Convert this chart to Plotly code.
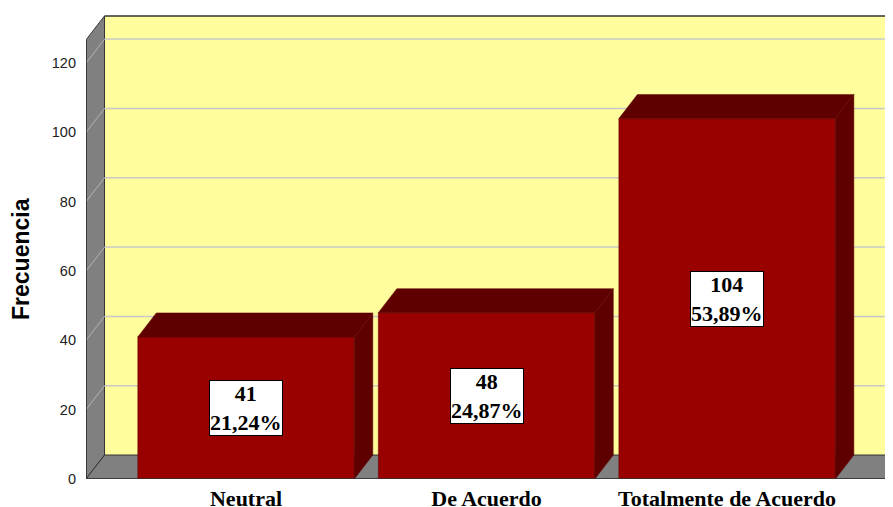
import plotly.graph_objects as go

categorias = ["Neutral", "De Acuerdo", "Totalmente de Acuerdo"]
frecuencias = [41, 48, 104]
porcentajes = ["21,24%", "24,87%", "53,89%"]
ticks_y = [0, 20, 40, 60, 80, 100, 120]

# geometry of the fake 3d box (axis units)
x_pos = list(range(len(categorias)))
ancho = 0.9
x0, x1 = -0.6653, 2.723
y_max_rango = 135.9
techo = 126.7
dx, dy = 0.077, 6.92
x_fin = 2.665

amarillo = "#FFFD9C"
gris = "#808080"
rojo = "#990000"
rojo_osc = "#5E0000"

fig = go.Figure()

shapes = []
# back wall
shapes.append(dict(type="rect", xref="x", yref="y", x0=x0 + dx, x1=x1 + 0.2,
                   y0=dy, y1=techo + dy, fillcolor=amarillo, line=dict(width=0), layer="below"))
# left wall
shapes.append(dict(type="path", xref="x", yref="y",
                   path=f"M {x0},0 L {x0+dx},{dy} L {x0+dx},{techo+dy} L {x0},{techo} Z",
                   fillcolor=gris, line=dict(color="#333333", width=1), layer="below"))
# floor
shapes.append(dict(type="path", xref="x", yref="y",
                   path=f"M {x0},0 L {x0+dx},{dy} L {x_fin+dx},{dy} L {x_fin},0 Z",
                   fillcolor=gris, line=dict(color="#333333", width=1), layer="below"))
# grid lines on back wall + diagonals on left wall
for v in ticks_y[1:]:
    shapes.append(dict(type="line", xref="x", yref="y", x0=x0 + dx, x1=x1 + 0.2,
                       y0=v + dy, y1=v + dy, line=dict(color="#C8C8C8", width=1.5), layer="below"))
    shapes.append(dict(type="line", xref="x", yref="y", x0=x0, x1=x0 + dx,
                       y0=v, y1=v + dy, line=dict(color="#B4B4B4", width=1), layer="below"))
# top edge of back wall
shapes.append(dict(type="line", xref="x", yref="y", x0=x0 + dx, x1=x1 + 0.2,
                   y0=techo + dy, y1=techo + dy, line=dict(color="#333333", width=1.5), layer="below"))

# bar front faces
fig.add_trace(go.Bar(x=x_pos, y=frecuencias, width=ancho, marker=dict(color=rojo, line=dict(color=rojo_osc, width=0.5)),
                     hoverinfo="skip"))

# top and side faces
for xi, v in zip(x_pos, frecuencias):
    a, b = xi - ancho / 2, xi + ancho / 2
    fig.add_trace(go.Scatter(x=[a, a + dx, b + dx, b, a], y=[v, v + dy, v + dy, v, v],
                             fill="toself", fillcolor=rojo_osc, mode="lines",
                             line=dict(color=rojo_osc, width=0.5), hoverinfo="skip"))
    fig.add_trace(go.Scatter(x=[b, b + dx, b + dx, b, b], y=[0, dy, v + dy, v, 0],
                             fill="toself", fillcolor=rojo_osc, mode="lines",
                             line=dict(color=rojo_osc, width=0.5), hoverinfo="skip"))

# front edges
shapes.append(dict(type="line", xref="x", yref="y", x0=x0, x1=x0, y0=0, y1=techo,
                   line=dict(color="#333333", width=1.5)))
shapes.append(dict(type="line", xref="x", yref="y", x0=x0, x1=x_fin, y0=0, y1=0,
                   line=dict(color="#333333", width=1.5)))

anots = []
for xi, v, p in zip(x_pos, frecuencias, porcentajes):
    anots.append(dict(x=xi, y=v / 2, xref="x", yref="y", text=f"{v}<br>{p}", showarrow=False,
                      font=dict(family="Liberation Serif", size=22, color="black", weight="bold"),
                      bgcolor="white", bordercolor="black", borderwidth=1, borderpad=0))
anots.append(dict(x=-0.0798, y=0.467, xref="paper", yref="paper", text="Frecuencia", textangle=-90,
                  xanchor="center", yanchor="middle", showarrow=False,
                  font=dict(family="Arial", size=23, color="black", weight="bold")))

fig.update_layout(
    width=893, height=507,
    margin=dict(l=78, r=0, t=0, b=36),
    paper_bgcolor="white", plot_bgcolor="white",
    showlegend=False,
    shapes=shapes,
    annotations=anots,
    xaxis=dict(range=[x0, x1], tickvals=x_pos, ticktext=categorias, showgrid=False, zeroline=False,
               showline=False, ticks="", ticklabelstandoff=4,
               tickfont=dict(family="Liberation Serif", size=22, color="black", weight="bold")),
    yaxis=dict(range=[0, y_max_rango], tickvals=ticks_y, showgrid=False, zeroline=False,
               showline=False, ticks="", ticklabelstandoff=9,
               tickfont=dict(family="Arial", size=14.5, color="#222222")),
)

fig.write_html("out.html")
